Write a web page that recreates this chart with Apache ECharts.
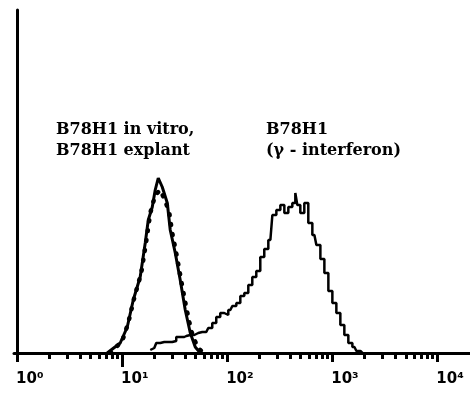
<!DOCTYPE html>
<html>
<head>
<meta charset="utf-8">
<script src="https://cdn.jsdelivr.net/npm/echarts@6/dist/echarts.min.js"></script>
<style>
  html, body { margin: 0; padding: 0; background: #fff; }
  #main { width: 470px; height: 394px; }
</style>
</head>
<body>
<div id="main"></div>
<script>
// fluorescence intensity given as log10 (decades), counts in relative units

// B78H1 in vitro (solid)
var vitroX = [0.857, 0.981, 1.048, 1.105, 1.171, 1.219, 1.248, 1.286, 1.314, 1.343, 1.381, 1.429, 1.457, 1.505, 1.552, 1.600, 1.648, 1.695, 1.743];
var vitroY = [0, 10, 26, 53, 76, 110, 133, 146, 163, 175, 166, 150, 123, 100, 73, 43, 20, 6, 0];

// B78H1 explant (dotted)
var explantX = [0.886, 1.0, 1.057, 1.114, 1.181, 1.229, 1.267, 1.314, 1.362, 1.410, 1.448, 1.476, 1.514, 1.562, 1.610, 1.657, 1.714, 1.771];
var explantY = [0, 12, 30, 55, 80, 112, 140, 158, 163, 152, 140, 120, 100, 72, 45, 22, 6, 0];

// B78H1 (gamma - interferon) histogram
var ifnX = [1.267, 1.305, 1.343, 1.381, 1.419, 1.457, 1.495, 1.533, 1.571, 1.610, 1.648, 1.686, 1.724, 1.762, 1.800,
    1.838, 1.876, 1.914, 1.952, 1.990, 2.029, 2.067, 2.105, 2.143, 2.181, 2.219, 2.257, 2.295, 2.333, 2.371,
    2.410, 2.448, 2.486, 2.524, 2.562, 2.600, 2.638, 2.657, 2.676, 2.714, 2.752, 2.790, 2.829, 2.867, 2.905,
    2.943, 2.981, 3.019, 3.057, 3.095, 3.133, 3.171, 3.210, 3.248, 3.286];
var ifnY = [3, 5, 10, 11, 11, 11, 12, 16, 16, 17, 18, 18, 20, 21, 21,
    25, 30, 36, 40, 38, 43, 47, 50, 57, 60, 68, 76, 82, 96, 104,
    113, 138, 143, 148, 140, 146, 150, 160, 148, 140, 150, 130, 118, 108, 94,
    80, 62, 50, 40, 28, 18, 10, 6, 2, 0];

var majorTicks = [0, 2, 3, 4];
var longTick = [1];
var labelValues = [0, 1, 2, 3, 4];
var tickLabels = ['10⁰', '10¹', '10²', '10³', '10⁴'];
var minorTicks = [];
for (var d = 0; d < 4; d++) {
    for (var k = 2; k <= 9; k++) {
        minorTicks.push(d + Math.log10(k));
    }
}

function pairs(xs, ys) {
    return xs.map(function (x, i) { return [x, ys[i]]; });
}

var dom = document.getElementById('main');
var myChart = echarts.init(dom, null, { renderer: 'canvas' });

function tickAxis(values, len, showLine) {
    return {
        type: 'value',
        min: -0.03,
        max: 4.31,
        position: 'bottom',
        splitLine: { show: false },
        axisLine: { show: showLine, lineStyle: { color: '#000', width: 3 } },
        axisTick: { show: true, inside: false, length: len, customValues: values, lineStyle: { color: '#000', width: 3 } },
        axisLabel: { show: false }
    };
}

option = {
    animation: false,
    grid: { left: 14, right: 0, top: 10, bottom: 41 },
    xAxis: [
        tickAxis(minorTicks, 6, true),
        tickAxis(majorTicks, 9, false),
        tickAxis(longTick, 14, false),
        {
            type: 'value',
            min: -0.03,
            max: 4.31,
            position: 'bottom',
            splitLine: { show: false },
            axisLine: { show: false },
            axisTick: { show: false },
            axisLabel: {
                show: true,
                customValues: labelValues.map(function (v) { return v + 0.12; }),
                formatter: function (v) { return tickLabels[Math.round(v - 0.12)]; },
                margin: 19,
                color: '#000',
                fontFamily: 'DejaVu Sans',
                fontWeight: 'bold',
                fontSize: 15
            }
        }
    ],
    yAxis: {
        type: 'value',
        min: 0,
        max: 343,
        axisLine: { show: true, lineStyle: { color: '#000', width: 3 } },
        axisTick: { show: false },
        axisLabel: { show: false },
        splitLine: { show: false }
    },
    graphic: [
        {
            type: 'text', left: 56, top: 119,
            style: {
                text: 'B78H1 in vitro,\nB78H1 explant',
                fill: '#000', font: 'bold 16px "DejaVu Serif"', lineHeight: 21
            }
        },
        {
            type: 'text', left: 266, top: 119,
            style: {
                text: 'B78H1\n(γ - interferon)',
                fill: '#000', font: 'bold 16px "DejaVu Serif"', lineHeight: 21
            }
        }
    ],
    series: [
        {
            name: 'B78H1 in vitro',
            type: 'line',
            data: pairs(vitroX, vitroY),
            showSymbol: false,
            lineStyle: { color: '#000', width: 3 }
        },
        {
            name: 'B78H1 explant',
            type: 'line',
            data: pairs(explantX, explantY),
            showSymbol: false,
            lineStyle: { color: '#000', width: 4.5, type: [1, 9], cap: 'round' }
        },
        {
            name: 'B78H1 (γ - interferon)',
            type: 'line',
            step: 'middle',
            data: pairs(ifnX, ifnY),
            showSymbol: false,
            lineStyle: { color: '#000', width: 2.5 }
        }
    ]
};

if (option && typeof option === "object") {
    myChart.setOption(option, true);
}
</script>
</body>
</html>
